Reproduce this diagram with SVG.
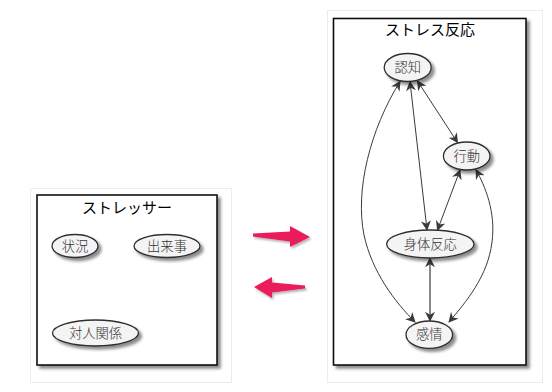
<svg xmlns="http://www.w3.org/2000/svg" width="552" height="392" viewBox="0 0 552 392">
  <style>
    .frame { fill: #ffffff; stroke: #ececec; stroke-width: 1; }
    .box { fill: #ffffff; stroke: #111111; stroke-width: 1.6; }
    .node { fill: #f4f4f4; stroke: #2e2e2e; stroke-width: 1.3; }
    .title { font-family: "Noto Sans CJK JP", "Noto Sans", sans-serif; font-size: 15px; font-weight: 400; fill: #000000; text-anchor: middle; }
    .label { font-family: "Noto Sans CJK JP", "Noto Sans", sans-serif; font-size: 13.3px; font-weight: 300; fill: #333333; text-anchor: middle; }
    .edge { fill: none; stroke: #3a3a3a; stroke-width: 1; marker-start: url(#ah); marker-end: url(#ah); }
    .edge-gray { fill: none; stroke: #8a8a8a; stroke-width: 2; marker-start: url(#ah); marker-end: url(#ah); }
    .big { fill: #ea1a5c; }
  </style>
  <defs>
    <filter id="sh" x="-20%" y="-20%" width="150%" height="150%">
      <feDropShadow dx="3" dy="3" stdDeviation="1.8" flood-color="#000000" flood-opacity="0.45"/>
    </filter>
    <filter id="sh2" x="-20%" y="-30%" width="150%" height="170%">
      <feDropShadow dx="1.5" dy="2" stdDeviation="1.2" flood-color="#000000" flood-opacity="0.3"/>
    </filter>
    <marker id="ah" viewBox="0 0 10 10" refX="9" refY="5" markerWidth="10" markerHeight="10" markerUnits="userSpaceOnUse" orient="auto-start-reverse">
      <path d="M0,0 L10,5 L0,10 L3,5 z" fill="#3a3a3a"/>
    </marker>
  </defs>

  <rect width="552" height="392" fill="#ffffff"/>

  <!-- left panel -->
  <g id="stressor">
    <rect class="frame" x="30.5" y="188.5" width="201" height="194"/>
    <rect class="box" x="37" y="195" width="180" height="170" filter="url(#sh)"/>
    <text class="title" x="127" y="213">ストレッサー</text>
  </g>
  <g id="node-jokyo">
    <ellipse class="node" cx="75" cy="246" rx="23" ry="11.5" filter="url(#sh)"/>
    <text class="label" x="75" y="250.5">状況</text>
  </g>
  <g id="node-dekigoto">
    <ellipse class="node" cx="167" cy="246" rx="33" ry="11.5" filter="url(#sh)"/>
    <text class="label" x="167" y="250.5">出来事</text>
  </g>
  <g id="node-taijin">
    <ellipse class="node" cx="95.5" cy="333" rx="43" ry="13" filter="url(#sh)"/>
    <text class="label" x="95.5" y="337.5">対人関係</text>
  </g>

  <!-- big arrows between panels -->
  <g id="arrows-between">
    <polygon class="big" filter="url(#sh2)" points="253,233.6 290,231.6 290,226 310,237 290,247 290,241.6 253,236.4"/>
    <polygon class="big" filter="url(#sh2)" points="254,287 272,277 272,282.6 305,285.4 305,288.6 272,292.4 272,298"/>
  </g>

  <!-- right panel -->
  <g id="stress-response">
    <rect class="frame" x="327.5" y="10.5" width="215" height="372"/>
    <rect class="box" x="333.5" y="18.5" width="192.5" height="346.5" filter="url(#sh)"/>
    <text class="title" x="430" y="35">ストレス反応</text>
  </g>

  <g id="connectors">
    <path class="edge" d="M417.5,81 L457.5,142.5"/>
    <path class="edge" d="M410,81.8 L427,229.8"/>
    <path class="edge" d="M460,170.2 L437.5,230"/>
    <path class="edge" d="M400,81.5 C370,130 355,190 364,235 C372,272 395,302 415,322"/>
    <path class="edge" d="M476,169.8 C485,186 496,212 492,242 C488,276 466,302 449,322"/>
    <path class="edge-gray" d="M430,258.2 L430,320.8"/>
  </g>

  <g id="node-ninchi">
    <ellipse class="node" cx="407.7" cy="67.5" rx="23.5" ry="14" filter="url(#sh)"/>
    <text class="label" x="407.7" y="72">認知</text>
  </g>
  <g id="node-kodo">
    <ellipse class="node" cx="466.7" cy="156" rx="23.3" ry="14" filter="url(#sh)"/>
    <text class="label" x="466.7" y="160.5">行動</text>
  </g>
  <g id="node-shintai">
    <ellipse class="node" cx="430.3" cy="244" rx="43.7" ry="14" filter="url(#sh)"/>
    <text class="label" x="430.3" y="248.5">身体反応</text>
  </g>
  <g id="node-kanjo">
    <ellipse class="node" cx="429.3" cy="334.7" rx="23.3" ry="13.7" filter="url(#sh)"/>
    <text class="label" x="429.3" y="339.2">感情</text>
  </g>
</svg>
